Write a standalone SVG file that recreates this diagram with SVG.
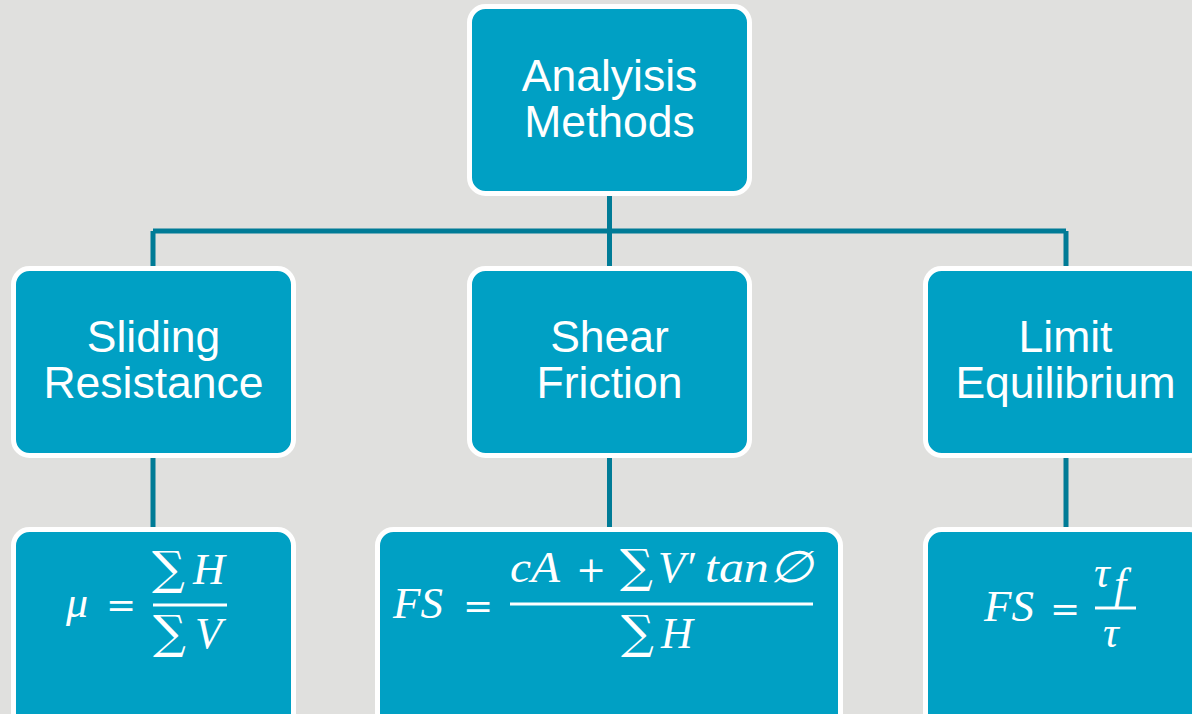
<svg xmlns="http://www.w3.org/2000/svg" width="1192" height="714" viewBox="0 0 1192 714">
<style>
.box{fill:#00A0C4;stroke:#FFFFFF;stroke-width:5}
.lbl{font-family:"Liberation Sans",Arial,sans-serif;font-size:44.5px;fill:#FFFFFF;text-anchor:middle}
.m{font-family:"Liberation Serif","DejaVu Serif",serif;font-style:italic;font-size:44px;fill:#FFFFFF}
.u{font-family:"DejaVu Serif",serif;font-size:36px;fill:#FFFFFF}
.s{font-family:"DejaVu Serif",serif;font-size:46px;fill:#FFFFFF}
.fr{stroke:#FFFFFF;stroke-width:3}
.con{stroke:#007B96;stroke-width:5;fill:none}
</style>
<rect width="1192" height="714" fill="#E0E0DE"/>
<g id="connectors">
<path class="con" d="M609.5 196V527M153 231H1066M153 231V527M1066 231V527"/>
</g>
<g id="analysis-methods">
<rect class="box" x="469.5" y="6.5" width="280" height="187" rx="16"/>
<text class="lbl" x="609.5" y="91">Analyisis</text>
<text class="lbl" x="609.5" y="137">Methods</text>
</g>
<g id="sliding-resistance">
<rect class="box" x="13.5" y="268.5" width="280" height="187" rx="16"/>
<text class="lbl" x="153.5" y="352">Sliding</text>
<text class="lbl" x="153.5" y="398">Resistance</text>
</g>
<g id="shear-friction">
<rect class="box" x="469.5" y="268.5" width="280" height="187" rx="16"/>
<text class="lbl" x="609.5" y="352">Shear</text>
<text class="lbl" x="609.5" y="398">Friction</text>
</g>
<g id="limit-equilibrium">
<rect class="box" x="925.5" y="268.5" width="280" height="187" rx="16"/>
<text class="lbl" x="1065.5" y="352">Limit</text>
<text class="lbl" x="1065.5" y="398">Equilibrium</text>
</g>
<g id="eq-sliding">
<rect class="box" x="13.5" y="529.5" width="280" height="200" rx="16"/>
<text class="m" x="66" y="617">μ</text>
<text class="u" x="106" y="617">=</text>
<text class="s" x="152" y="584">∑</text>
<text class="m" x="193" y="584">H</text>
<line class="fr" x1="153" y1="605" x2="227" y2="605"/>
<text class="s" x="153" y="648">∑</text>
<text class="m" x="195" y="648">V</text>
</g>
<g id="eq-shear">
<rect class="box" x="377.5" y="529.5" width="463" height="200" rx="16"/>
<text class="m" x="393" y="618" textLength="50" lengthAdjust="spacingAndGlyphs">FS</text>
<text class="u" x="463" y="618">=</text>
<text class="m" x="510" y="582" textLength="50" lengthAdjust="spacingAndGlyphs">cA</text>
<text class="u" x="576" y="582">+</text>
<text class="s" x="620" y="582">∑</text>
<text class="m" x="658" y="582">V′</text>
<text class="m" x="705" y="582" textLength="107" lengthAdjust="spacingAndGlyphs">tan∅</text>
<line class="fr" x1="510" y1="604" x2="813" y2="604"/>
<text class="s" x="621" y="648">∑</text>
<text class="m" x="661" y="648">H</text>
</g>
<g id="eq-limit">
<rect class="box" x="925.5" y="529.5" width="280" height="200" rx="16"/>
<text class="m" x="984" y="621" textLength="50" lengthAdjust="spacingAndGlyphs">FS</text>
<text class="u" x="1050" y="621">=</text>
<text class="m" x="1094" y="587">τ</text>
<text class="m" x="1114" y="599" font-size="30">f</text>
<line class="fr" x1="1095" y1="608" x2="1136" y2="608"/>
<text class="m" x="1103" y="647">τ</text>
</g>
</svg>
